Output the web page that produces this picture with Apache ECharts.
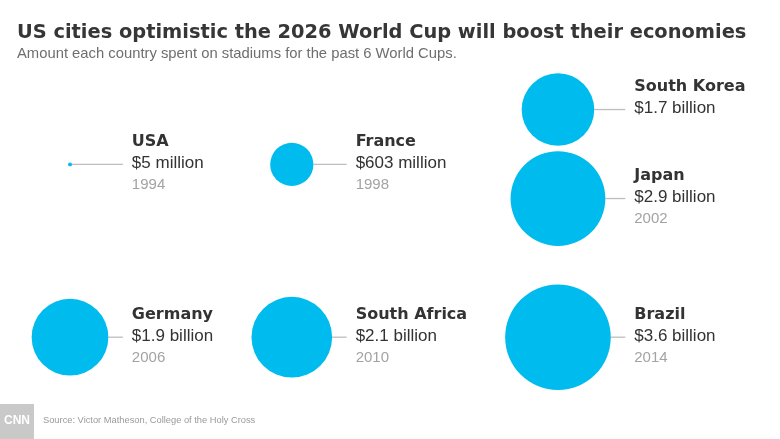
<!DOCTYPE html>
<html>
<head>
<meta charset="utf-8">
<script src="https://cdn.jsdelivr.net/npm/echarts@6/dist/echarts.min.js"></script>
<style>
html,body{margin:0;padding:0;background:#fff;}
#chart{width:780px;height:439px;}
</style>
</head>
<body>
<div id="chart"></div>
<script>
// ---- data ----
const countries = ['USA', 'France', 'South Korea', 'Japan', 'Germany', 'South Africa', 'Brazil'];
const spendMillions = [5, 603, 1700, 2900, 1900, 2100, 3600];
const valueLabels = ['$5 million', '$603 million', '$1.7 billion', '$2.9 billion', '$1.9 billion', '$2.1 billion', '$3.6 billion'];
const years = ['1994', '1998', '', '2002', '2006', '2010', '2014'];

// ---- layout slots (arrangement on hidden axes) ----
const slotX = [0, 1, 2.2, 2.2, 0, 1, 2.2];
const slotY = [1, 1, 0.365, 1.395, 3, 3, 3];

const titleText = 'US cities optimistic the 2026 World Cup will boost their economies';
const subtitleText = 'Amount each country spent on stadiums for the past 6 World Cups.';
const sourceText = 'Source: Victor Matheson, College of the Holy Cross';

const bubbleColor = '#00bcee';
const rScale = 0.88; // radius per sqrt(million)

const chart = echarts.init(document.getElementById('chart'), null, {renderer: 'canvas'});

// largest radius per column, from data
const colMaxR = {};
spendMillions.forEach((v, i) => {
  const r = rScale * Math.sqrt(v);
  const k = String(slotX[i]);
  colMaxR[k] = Math.max(colMaxR[k] || 0, r);
});

const seriesData = countries.map((c, i) => [slotX[i], slotY[i], spendMillions[i]]);

chart.setOption({
  backgroundColor: '#ffffff',
  animation: false,
  title: [{
    text: titleText,
    left: 17, top: 21, padding: 0,
    textStyle: {fontFamily: 'DejaVu Sans', fontWeight: 'bold', fontSize: 19.4, color: '#363636', lineHeight: 24}
  }, {
    text: subtitleText,
    left: 17, top: 45, padding: 0,
    textStyle: {fontFamily: 'Liberation Sans', fontWeight: 'normal', fontSize: 14.8, color: '#6e6e6e', lineHeight: 18}
  }, {
    text: sourceText,
    left: 43, top: 414, padding: 0,
    textStyle: {fontFamily: 'Liberation Sans', fontWeight: 'normal', fontSize: 9.3, color: '#9a9a9a', lineHeight: 12}
  }],
  grid: {left: 70, top: 78, right: 44.6, bottom: 15.4, containLabel: false},
  xAxis: {type: 'value', min: 0, max: 3, show: false},
  yAxis: {type: 'value', min: 0, max: 4, inverse: true, show: false},
  graphic: [{
    type: 'group', left: 0, top: 404,
    children: [
      {type: 'rect', shape: {x: 0, y: 0, width: 34, height: 35}, style: {fill: '#c9c9c9'}},
      {type: 'text', x: 17, y: 17, style: {text: 'CNN', fill: '#ffffff', font: 'bold 12px "Liberation Sans"', align: 'center', verticalAlign: 'middle'}}
    ]
  }],
  series: [{
    type: 'custom',
    coordinateSystem: 'cartesian2d',
    data: seriesData,
    renderItem: function (params, api) {
      const i = params.dataIndex;
      const c = api.coord([api.value(0), api.value(1)]);
      const r = rScale * Math.sqrt(api.value(2));
      const textX = c[0] + colMaxR[String(api.value(0))] + 23.5;
      const lineStart = r < 4 ? c[0] : c[0] + r;
      const children = [
        {type: 'line', shape: {x1: lineStart, y1: c[1], x2: textX - 9, y2: c[1]},
         style: {stroke: '#bdbdbd', lineWidth: 1.3}},
        {type: 'circle', shape: {cx: c[0], cy: c[1], r: r}, style: {fill: bubbleColor}},
        {type: 'text', x: textX, y: c[1] - 22.5,
         style: {text: countries[i], fill: '#333333', font: 'bold 16px "DejaVu Sans"', align: 'left', verticalAlign: 'middle'}},
        {type: 'text', x: textX, y: c[1] - 1,
         style: {text: valueLabels[i], fill: '#333333', font: '17px "Liberation Sans"', align: 'left', verticalAlign: 'middle'}}
      ];
      if (years[i]) {
        children.push({type: 'text', x: textX, y: c[1] + 20.5,
          style: {text: years[i], fill: '#a3a3a3', font: '15px "Liberation Sans"', align: 'left', verticalAlign: 'middle'}});
      }
      return {type: 'group', children: children};
    }
  }]
});
</script>
</body>
</html>
